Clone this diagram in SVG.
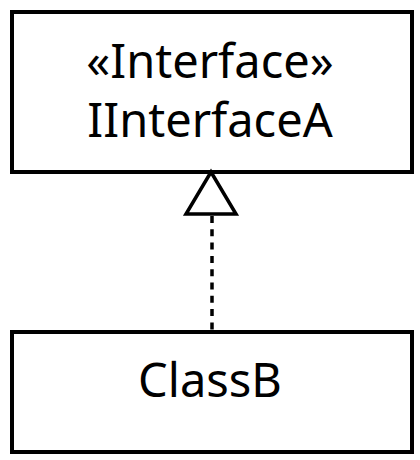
<svg xmlns="http://www.w3.org/2000/svg" width="420" height="460" viewBox="0 0 420 460">
<style>
.box{fill:#fff;stroke:#000;stroke-width:4}
.t{font-family:"Noto Sans","Open Sans",sans-serif;font-size:47px;text-anchor:middle;fill:#000}
.edge{stroke:#000;stroke-width:3.5;fill:none}
</style>
<rect width="420" height="460" fill="#fff"/>
<g id="IInterfaceA">
<rect class="box" x="12" y="12" width="400" height="160"/>
<text class="t" x="210" y="78">«Interface»</text>
<text class="t" x="210" y="137">IInterfaceA</text>
</g>
<g id="ClassB">
<rect class="box" x="12" y="332" width="400" height="120"/>
<text class="t" x="210" y="397">ClassB</text>
</g>
<g id="connectors">
<line class="edge" x1="212" y1="216" x2="212" y2="330" stroke-dasharray="7 6.3"/>
<polygon class="edge" points="211,172 236,214 186,214" stroke-linejoin="miter"/>
</g>
</svg>
